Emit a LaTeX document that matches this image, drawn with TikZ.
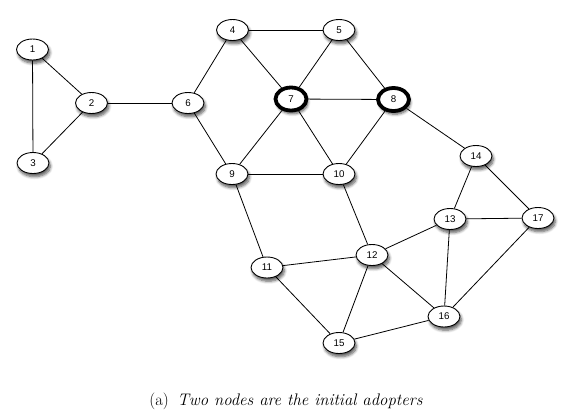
\documentclass[tikz,border=0pt]{standalone}
\usepackage{fontspec}
\newfontfamily\nodefont{Liberation Sans}
\usetikzlibrary{shapes.geometric,shadows.blur,backgrounds}
\tikzset{
  vert/.style={ellipse, draw=black, line width=0.9bp, fill=white, inner sep=0pt,
    minimum width=32bp, minimum height=21bp,
    font=\nodefont\fontsize{9.8}{11}\selectfont,
    blur shadow={shadow xshift=1.5bp, shadow yshift=-3.2bp, shadow blur steps=6, shadow blur radius=2.8bp, shadow opacity=65}},
  seed/.style={vert, line width=3.8bp, minimum width=31bp, minimum height=23bp},
  edge/.style={draw=black, line width=0.8bp},
  caption/.style={font=\fontsize{16.8}{19}\selectfont, anchor=base}
}
\begin{document}
\begin{tikzpicture}[x=1bp, y=-1bp]
\useasboundingbox (0,0) rectangle (567,416);
\node[vert] (n1) at (32.5,49.5) {1};
\node[vert] (n2) at (91.5,103) {2};
\node[vert] (n3) at (33,163) {3};
\node[vert] (n4) at (232.5,30) {4};
\node[vert] (n5) at (339,30) {5};
\node[vert] (n6) at (188,103) {6};
\node[seed] (n7) at (291,99) {7};
\node[seed] (n8) at (393.5,99.5) {8};
\node[vert] (n9) at (232,174) {9};
\node[vert] (n10) at (339,174) {10};
\node[vert] (n11) at (267,267.5) {11};
\node[vert] (n12) at (372,255) {12};
\node[vert] (n13) at (450,219) {13};
\node[vert] (n14) at (476,156) {14};
\node[vert] (n15) at (339,343) {15};
\node[vert] (n16) at (444,316.5) {16};
\node[vert] (n17) at (538,218) {17};
\begin{pgfonlayer}{background}
\foreach \a/\b in {n1/n2,n1/n3,n2/n3,n2/n6,n6/n4,n6/n9,n4/n5,n4/n7,n5/n7,n5/n8,n7/n8,n7/n9,n7/n10,n8/n10,n8/n14,n9/n10,n9/n11,n10/n12,n14/n13,n14/n17,n13/n17,n13/n12,n13/n16,n17/n16,n12/n11,n12/n15,n12/n16,n11/n15,n15/n16}
  \draw[edge] (\a) -- (\b);
\end{pgfonlayer}
\node[caption] (cap) at (286,405) {(a)\enspace\textit{Two nodes are the initial adopters}};
\end{tikzpicture}
\end{document}
